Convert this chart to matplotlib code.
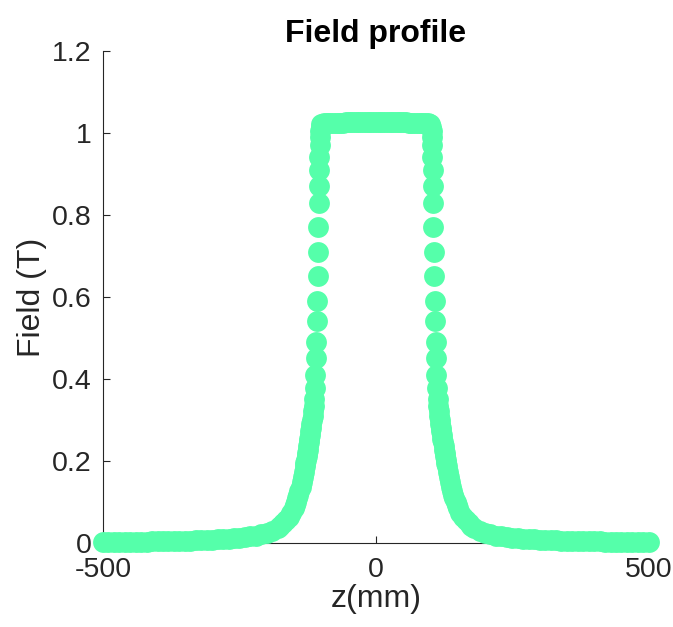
import numpy as np
import matplotlib
matplotlib.use("Agg")
import matplotlib.pyplot as plt

plt.rcParams['font.family'] = ['Liberation Sans', 'DejaVu Sans']
plt.rcParams['axes.unicode_minus'] = False

# right half of the profile (z >= 0)
z_right = [0, 5, 10, 15, 20, 25, 30, 35, 40, 45, 50, 55, 60, 65, 70, 75, 80, 85, 90, 95,
           100, 101, 102, 102.5, 103, 103.5, 104, 104.5, 105, 105.5, 106, 106.8, 107.6,
           108.5, 109.3, 110.2, 111, 112, 113, 114,
           115, 116, 117, 118, 119, 120, 121, 122, 123, 124, 125, 126, 127, 128, 129, 130,
           132, 134, 136, 138, 140, 142, 144, 146, 148, 150,
           155, 160, 165, 170, 175, 180, 190, 200, 210, 220, 230, 240, 250, 260, 270, 280, 290,
           300, 310, 320, 330, 340, 350, 360, 370, 380, 390, 400, 410, 420, 430, 440, 450,
           460, 470, 480, 490, 500]
field_right = [1.027, 1.027, 1.027, 1.027, 1.027, 1.027, 1.027, 1.026, 1.026, 1.026, 1.026,
               1.026, 1.025, 1.025, 1.025, 1.025, 1.024, 1.024, 1.023, 1.023,
               1.022, 1.015, 1.005, 0.99, 0.97, 0.94, 0.91, 0.87, 0.83, 0.77, 0.71, 0.65, 0.59,
               0.54, 0.49, 0.45, 0.41, 0.378, 0.35, 0.335,
               0.322, 0.310, 0.300, 0.290, 0.281, 0.272, 0.263, 0.254, 0.245, 0.236, 0.227,
               0.219, 0.211, 0.203, 0.195, 0.187,
               0.173, 0.160, 0.148, 0.137, 0.127, 0.118, 0.109, 0.101, 0.093, 0.086,
               0.073, 0.063, 0.055, 0.048, 0.042, 0.037, 0.030, 0.025, 0.021, 0.018, 0.016,
               0.014, 0.013, 0.0115, 0.0105, 0.0095, 0.0088,
               0.008, 0.0074, 0.0068, 0.0063, 0.0058, 0.0054, 0.005, 0.0047, 0.0044, 0.0041,
               0.0039, 0.0037, 0.0035, 0.0033, 0.0031, 0.003,
               0.0028, 0.0027, 0.0026, 0.0025, 0.0024]

# the profile is symmetric about z = 0
z_left = [-z for z in z_right[:0:-1]]
field_left = field_right[:0:-1]
z = np.array(z_left + z_right)
field = np.array(field_left + field_right)

fig = plt.figure(figsize=(6.73, 6.27), dpi=100)
ax = fig.add_axes([0.153, 0.134, 0.811, 0.785])

ax.plot(z, field, 'o', color='#55ffaa', markersize=15, markeredgewidth=0,
        linestyle='none', clip_on=False, zorder=3)

ax.set_xlim(-500, 500)
ax.set_ylim(0, 1.2)
ax.set_xticks([-500, 0, 500])
ax.set_yticks([0, 0.2, 0.4, 0.6, 0.8, 1, 1.2])
ax.set_yticklabels(['0', '0.2', '0.4', '0.6', '0.8', '1', '1.2'])

for s in ['top', 'right']:
    ax.spines[s].set_visible(False)
for s in ['left', 'bottom']:
    ax.spines[s].set_color('#262626')
    ax.spines[s].set_linewidth(0.8)

ax.tick_params(direction='in', length=5, width=0.8, colors='#262626', labelsize=20.5)
ax.tick_params(axis='x', pad=10)
ax.tick_params(axis='y', pad=8)

ax.set_xlabel('z(mm)', fontsize=23, color='#262626', labelpad=1)
ax.set_ylabel('Field (T)', fontsize=23, color='#262626', labelpad=4)
ax.set_title('Field profile', fontsize=23, fontweight='bold', pad=6)

fig.savefig('out.png', dpi=100)
